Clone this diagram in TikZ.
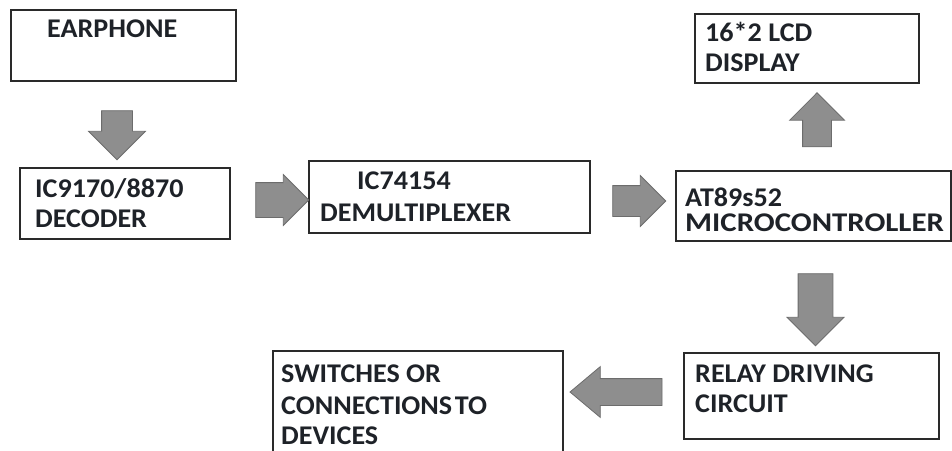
\documentclass[tikz,border=0pt]{standalone}
\usepackage{fontspec}
\setmainfont{Carlito}[FakeStretch=1.04]
\usetikzlibrary{shapes.arrows}
\definecolor{ink}{HTML}{1E2228}
\definecolor{boxline}{HTML}{2A2A2A}
\definecolor{arrfill}{HTML}{8E8E8E}
\definecolor{arrline}{HTML}{6C6C6C}
\tikzset{
  box/.style={draw=boxline, line width=1.5pt, rectangle, anchor=north west, inner sep=0pt},
  lbl/.style={anchor=base west, inner sep=0pt, text=ink, font=\fontsize{27}{30}\selectfont\bfseries},
  barrow/.style={single arrow, fill=arrfill, draw=arrline, line width=0.8pt,
    inner sep=#1, text height=0pt, text depth=0pt, text width=0pt, minimum width=0pt,
    single arrow tip angle=90, single arrow head indent=0pt}
}
\begin{document}
\begin{tikzpicture}[x=1pt,y=-1pt]
\useasboundingbox (0,0) rectangle (952,450);
% boxes
\node[box, minimum width=225pt, minimum height=71pt] (ear) at (10,9) {};
\node[box, minimum width=210pt, minimum height=71pt] (dec) at (19,167) {};
\node[box, minimum width=281pt, minimum height=72pt] (dmx) at (308,160) {};
\node[box, minimum width=275pt, minimum height=70pt] (mcu) at (675,170) {};
\node[box, minimum width=224pt, minimum height=69pt] (lcd) at (694,13) {};
\node[box, minimum width=255pt, minimum height=86pt] (rly) at (683,352) {};
\node[box, minimum width=290pt, minimum height=110pt] (sw) at (272,350) {};
% labels
\node[lbl] (ear-t) at (47,37) {EARPHONE};
\node[lbl] (dec-t1) at (35,197) {IC9170/8870};
\node[lbl] (dec-t2) at (35,227) {DECODER};
\node[lbl] (dmx-t1) at (357,189) {IC74154};
\node[lbl] (dmx-t2) at (320,221) {DEMULTIPLEXER};
\node[lbl] (lcd-t1) at (705,41) {16*2 LCD};
\node[lbl] (lcd-t2) at (705,71) {DISPLAY};
\node[lbl] (mcu-t1) at (685,206) {AT89s52};
\node[lbl] (mcu-t2) at (685,231) {\scalebox{1.1}[1]{MICROCONTROLLER}};
\node[lbl] (rly-t1) at (695,382) {RELAY DRIVING};
\node[lbl] (rly-t2) at (695,412) {CIRCUIT};
\node[lbl] (sw-t1) at (281,382) {SWITCHES OR};
\node[lbl] (sw-t2) at (281,414) {CONNECTIONS\hspace{0.1em}TO};
\node[lbl] (sw-t3) at (281,444) {DEVICES};
% block arrows
\node[barrow=15pt, shape border rotate=270, minimum height=49pt, single arrow head extend=13pt] (a1) at (117,127.5) {};
\node[barrow=17pt, minimum height=53pt, single arrow head extend=8pt] (a2) at (273.5,200) {};
\node[barrow=15pt, minimum height=53pt, single arrow head extend=10pt] (a3) at (631.5,201) {};
\node[barrow=14pt, shape border rotate=90, minimum height=54pt, single arrow head extend=13pt] (a4) at (817,127) {};
\node[barrow=17pt, shape border rotate=270, minimum height=72pt, single arrow head extend=11pt] (a5) at (815.5,301) {};
\node[barrow=13pt, shape border rotate=180, single arrow tip angle=80, minimum height=92pt, single arrow head extend=12pt] (a6) at (624,392) {};
\end{tikzpicture}
\end{document}
